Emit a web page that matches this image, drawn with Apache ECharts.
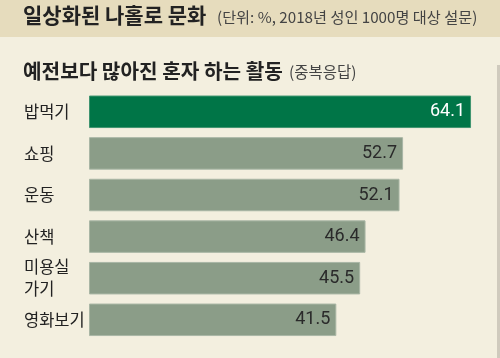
<!DOCTYPE html>
<html><head><meta charset="utf-8">
<script src="https://cdn.jsdelivr.net/npm/echarts@6/dist/echarts.min.js"></script>
<style>html,body{margin:0;padding:0;background:#f3efdf;}#c{width:500px;height:358px;}</style>
</head><body><div id="c"></div>
<script>
const categories = ['밥먹기', '쇼핑', '운동', '산책', '미용실\n가기', '영화보기'];
const values = [64.1, 52.7, 52.1, 46.4, 45.5, 41.5];
const highlightIndex = 0;

const font = '"Noto Sans CJK KR", "Noto Sans", sans-serif';
const chart = echarts.init(document.getElementById('c'));
chart.setOption({
  backgroundColor: '#f3efdf',
  animation: false,
  graphic: [
    { type: 'rect', shape: { x: 0, y: 0, width: 500, height: 37 }, style: { fill: '#e6dcbd' } },
    { type: 'rect', shape: { x: 497, y: 65, width: 3, height: 293 }, style: { fill: '#cfcabd' } },
    { type: 'text', left: 23, top: 5, style: { text: '일상화된 나홀로 문화', font: 'bold 21px ' + font, fill: '#222' } },
    { type: 'text', left: 217, top: 10, style: { text: '(단위: %, 2018년 성인 1000명 대상 설문)', font: '15.2px ' + font, fill: '#444' } },
    { type: 'text', left: 23, top: 61, style: { text: '예전보다 많아진 혼자 하는 활동', font: 'bold 20.2px ' + font, fill: '#222' } },
    { type: 'text', left: 289, top: 64, style: { text: '(중복응답)', font: '15.5px ' + font, fill: '#444' } }
  ],
  grid: { left: 89, right: 23.6, top: 91, bottom: 17.4 },
  xAxis: { type: 'value', min: 0, max: 65, show: false },
  yAxis: {
    type: 'category', data: categories, inverse: true,
    axisLine: { show: false }, axisTick: { show: false },
    axisLabel: { align: 'left', margin: 65, color: '#222', fontSize: 16.5, lineHeight: 22, fontFamily: font }
  },
  series: [{
    type: 'bar', barWidth: 32.5,
    data: values.map((v, i) => ({
      value: v,
      itemStyle: { color: i === highlightIndex ? '#007547' : '#8b9d88', borderColor: i === highlightIndex ? '#3f9470' : '#a9b6a5', borderWidth: 1 },
      label: { color: i === highlightIndex ? '#ffffff' : '#2a2a2a' }
    })),
    label: { show: true, position: 'insideRight', distance: 6, fontSize: 18, fontFamily: '"Roboto", sans-serif', letterSpacing: -1 }
  }]
});
</script></body></html>
